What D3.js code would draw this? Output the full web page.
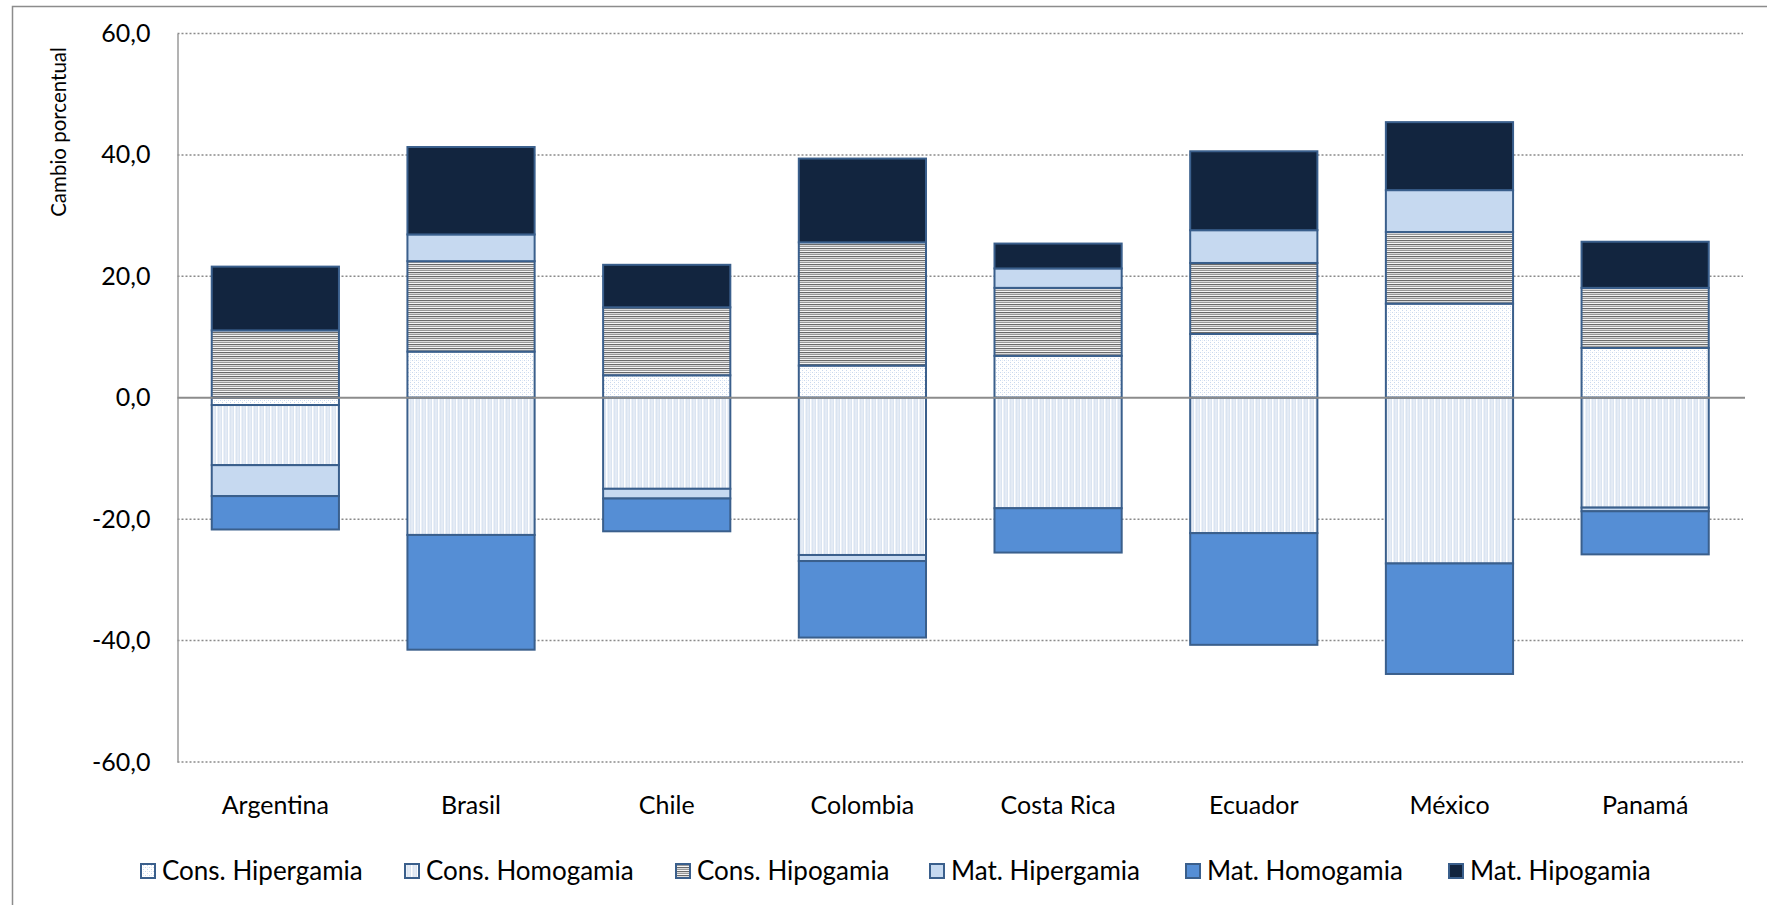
<!DOCTYPE html>
<html>
<head>
<meta charset="utf-8">
<script src="https://cdn.jsdelivr.net/npm/d3@7/dist/d3.min.js"></script>
<style>
  html, body { margin: 0; padding: 0; background: #ffffff; }
  svg { display: block; font-family: Lato, "Open Sans", sans-serif; }
</style>
</head>
<body>
<svg id="chart" width="1767" height="905"></svg>
<script>
// ---------------- data ----------------
const categories = ["Argentina", "Brasil", "Chile", "Colombia", "Costa Rica", "Ecuador", "México", "Panamá"];
const seriesNames = ["Cons. Hipergamia", "Cons. Homogamia", "Cons. Hipogamia", "Mat. Hipergamia", "Mat. Homogamia", "Mat. Hipogamia"];
const consHipergamia = [-1.2, 7.6, 3.7, 5.3, 6.9, 10.5, 15.5, 8.2];
const consHomogamia  = [-9.9, -22.6, -15.0, -25.9, -18.2, -22.3, -27.3, -18.1];
const consHipogamia  = [11.1, 14.9, 11.2, 20.3, 11.2, 11.7, 11.8, 9.9];
const matHipergamia  = [-5.1, 4.4, -1.6, -1.0, 3.2, 5.4, 6.9, -0.6];
const matHomogamia   = [-5.5, -18.9, -5.4, -12.6, -7.3, -18.4, -18.2, -7.1];
const matHipogamia   = [10.5, 14.4, 7.0, 13.8, 4.1, 13.0, 11.2, 7.6];
const yTicks = [-60, -40, -20, 0, 20, 40, 60];
const yTitle = "Cambio porcentual";

// ---------------- build table ----------------
const seriesValues = [consHipergamia, consHomogamia, consHipogamia, matHipergamia, matHomogamia, matHipogamia];
const table = categories.map((c, i) => {
  const row = { cat: c };
  seriesNames.forEach((s, j) => row[s] = seriesValues[j][i]);
  return row;
});

const svg = d3.select("#chart");
const W = 1767, H = 905;

// outer chart border (extends beyond picture right/bottom)
svg.append("rect").attr("x", 12.5).attr("y", 6.5).attr("width", W).attr("height", H)
  .attr("fill", "#fff").attr("stroke", "#8c8c8c").attr("stroke-width", 1.5);

// ---------------- patterns ----------------
const defs = svg.append("defs");
// dotted (Cons. Hipergamia)
const p1 = defs.append("pattern").attr("id", "pDot").attr("patternUnits", "userSpaceOnUse").attr("width", 4).attr("height", 4);
p1.append("rect").attr("width", 4).attr("height", 4).attr("fill", "#ffffff");
p1.append("rect").attr("x", 0).attr("y", 0).attr("width", 1).attr("height", 1).attr("fill", "#c9d8ee");
p1.append("rect").attr("x", 2).attr("y", 2).attr("width", 1).attr("height", 1).attr("fill", "#c9d8ee");
p1.append("rect").attr("x", 2).attr("y", 0).attr("width", 1).attr("height", 1).attr("fill", "#e6edf7");
// vertical lines (Cons. Homogamia)
const p2 = defs.append("pattern").attr("id", "pVert").attr("patternUnits", "userSpaceOnUse").attr("width", 6).attr("height", 6);
p2.append("rect").attr("width", 6).attr("height", 6).attr("fill", "#dae4f1");
p2.append("rect").attr("x", 0).attr("y", 0).attr("width", 1.5).attr("height", 6).attr("fill", "#ffffff");
p2.append("rect").attr("x", 3.5).attr("y", 0).attr("width", 1).attr("height", 6).attr("fill", "#eef3f9");
// horizontal lines (Cons. Hipogamia)
const p3 = defs.append("pattern").attr("id", "pHor").attr("patternUnits", "userSpaceOnUse").attr("width", 8).attr("height", 4);
p3.append("rect").attr("width", 8).attr("height", 4).attr("fill", "#f6f6f6");
p3.append("rect").attr("y", 0).attr("width", 8).attr("height", 1).attr("fill", "#6a6a6a");
p3.append("rect").attr("y", 1).attr("width", 8).attr("height", 1).attr("fill", "#d9d9d9");
p3.append("rect").attr("y", 2).attr("width", 8).attr("height", 1).attr("fill", "#9a9a9a");

const fills = ["url(#pDot)", "url(#pVert)", "url(#pHor)", "#c6d9f0", "#558ed5", "#12253f"];
const color = d3.scaleOrdinal().domain(seriesNames).range(fills);

// ---------------- scales ----------------
const plotLeft = 177.5, plotRight = 1743, yTop = 33.5, yBottom = 762;
const x = d3.scaleBand().domain(categories).range([plotLeft, plotRight]).paddingInner(0.35).paddingOuter(0.175);
const y = d3.scaleLinear().domain([-60, 60]).range([yBottom, yTop]);

const locale = d3.formatLocale({ decimal: ",", thousands: ".", grouping: [3], currency: ["$", ""], minus: "-" });
const fmt = locale.format(".1f");

// gridlines
svg.append("g").selectAll("line").data(yTicks.filter(t => t !== 0)).join("line")
  .attr("x1", plotLeft).attr("x2", plotRight)
  .attr("y1", d => y(d)).attr("y2", d => y(d))
  .attr("stroke", "#8a8a8a").attr("stroke-width", 1.5).attr("stroke-dasharray", "2,2");

// y axis
const yAxis = svg.append("g").attr("transform", `translate(${plotLeft},0)`)
  .call(d3.axisLeft(y).tickValues(yTicks).tickFormat(fmt).tickSize(0).tickPadding(27));
yAxis.select(".domain").attr("stroke", "#9a9a9a").attr("stroke-width", 1.5);
yAxis.selectAll("text").attr("font-size", 25).attr("fill", "#000").attr("font-family", "Lato");

// y title
svg.append("text").attr("transform", `translate(66,132) rotate(-90)`)
  .attr("text-anchor", "middle").attr("font-size", 20.5).attr("fill", "#000")
  .text(yTitle);

// ---------------- bars ----------------
const stack = d3.stack().keys(seriesNames).offset(d3.stackOffsetDiverging);
const stacked = stack(table);

svg.append("g").selectAll("g").data(stacked).join("g")
  .attr("fill", d => color(d.key))
  .selectAll("rect").data(d => d).join("rect")
  .attr("x", d => x(d.data.cat))
  .attr("width", x.bandwidth())
  .attr("y", d => y(Math.max(d[0], d[1])))
  .attr("height", d => Math.abs(y(d[0]) - y(d[1])))
  .attr("stroke", "#3a5f8c").attr("stroke-width", 2);

// zero line (category axis)
svg.append("line").attr("x1", plotLeft).attr("x2", plotRight + 2)
  .attr("y1", y(0)).attr("y2", y(0))
  .attr("stroke", "#8c8c8c").attr("stroke-width", 2);

// category labels
const xAxis = svg.append("g").attr("transform", `translate(0,${yBottom})`)
  .call(d3.axisBottom(x).tickSize(0).tickPadding(34));
xAxis.select(".domain").remove();
xAxis.selectAll("text").attr("font-size", 25).attr("fill", "#000").attr("font-family", "Lato");

// ---------------- legend ----------------
const legendX = [141, 405, 676, 930, 1186, 1449];
const markerSize = 14, textPad = 7;
const legend = svg.append("g").attr("transform", "translate(0,871)");
seriesNames.forEach((s, i) => {
  const g = legend.append("g").attr("transform", `translate(${legendX[i]},0)`);
  g.append("rect").attr("x", 0).attr("y", -markerSize / 2).attr("width", markerSize).attr("height", markerSize)
    .attr("fill", color(s)).attr("stroke", "#3a5f8c").attr("stroke-width", 2);
  g.append("text").attr("x", markerSize + textPad).attr("y", 0).attr("dy", "0.36em")
    .attr("font-size", 26).attr("fill", "#000").text(s);
});
</script>
</body>
</html>
